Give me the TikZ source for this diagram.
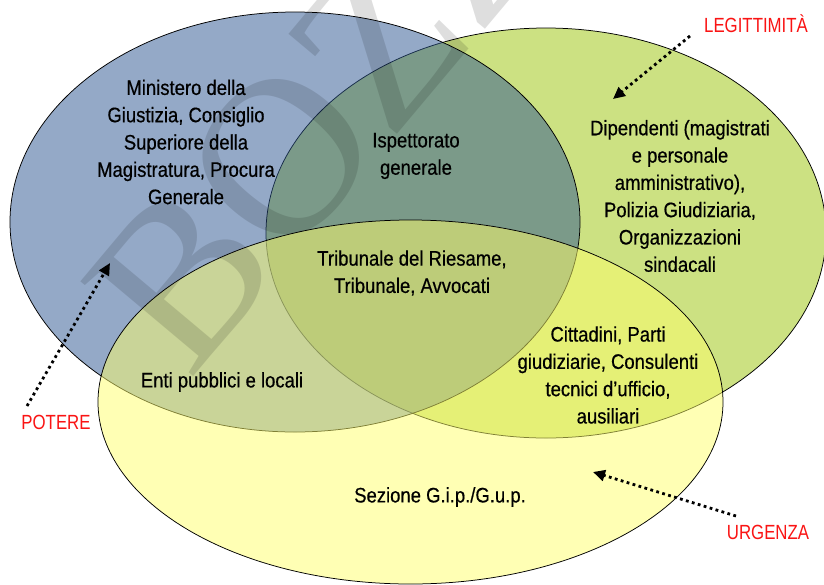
\documentclass[tikz,border=0pt]{standalone}
\usepackage{fontspec}
\setmainfont{Liberation Sans}
\newfontfamily\bodyfont{Liberation Sans}[FakeStretch=0.88,FakeBold=0.5]
\newfontfamily\labelfont{Liberation Sans}[FakeStretch=0.82]
\newfontfamily\wmfont{Liberation Serif}
\usetikzlibrary{arrows.meta}
\definecolor{bluef}{RGB}{43,85,145}
\definecolor{greenf}{RGB}{155,197,7}
\definecolor{yellowf}{RGB}{255,255,107}
\definecolor{labred}{RGB}{250,20,20}
\tikzset{
  venn/.style={draw=black, line width=0.75pt, fill opacity=0.5},
  txt/.style={align=center, inner sep=0pt, text=black,
    font=\bodyfont\fontsize{21}{27.3}\selectfont},
  lab/.style={inner sep=0pt, text=labred,
    font=\labelfont\fontsize{20.5}{24}\selectfont},
  dotarrow/.style={line width=2.8pt, dash pattern=on 2.8pt off 3.4pt,
    -{Triangle[length=12pt,width=11pt]}},
  wmark/.style={rotate=50, anchor=base west, inner sep=0pt, text=black,
    text opacity=0.13, font=\wmfont\fontsize{225}{225}\selectfont}
}
\begin{document}
\begin{tikzpicture}[x=1pt,y=-1pt]
\useasboundingbox (0,0) rectangle (824,584);
% ellipses
\fill[white] (0,0) rectangle (824,584);
\draw[venn, fill=greenf] (546,233) ellipse [x radius=280, y radius=205];
\draw[venn, fill=bluef] (295,222) ellipse [x radius=285, y radius=210];
\draw[venn, fill=yellowf] (410.5,402) ellipse [x radius=312.5, y radius=182];
% watermark
\begin{scope}
\clip (0,0) rectangle (824,584);
\node[wmark] (wm) at (189,382) {BOZZA};
\end{scope}
% texts
\node[txt] (min) at (186,142) {Ministero della\\Giustizia, Consiglio\\Superiore della\\Magistratura, Procura\\Generale};
\node[txt] (isp) at (416,156) {Ispettorato\\generale};
\node[txt] (trib) at (412,273) {Tribunale del Riesame,\\Tribunale, Avvocati};
\node[txt] (dip) at (680,196) {Dipendenti (magistrati\\e personale\\amministrativo),\\Polizia Giudiziaria,\\Organizzazioni\\sindacali};
\node[txt] (citt) at (608,375) {Cittadini, Parti\\giudiziarie, Consulenti\\tecnici d’ufficio,\\ausiliari};
\node[txt] (enti) at (222,382) {Enti pubblici e locali};
\node[txt] (sez) at (440,497) {Sezione G.i.p./G.u.p.};
% labels and arrows
\node[lab] (leg) at (756,24) {LEGITTIMITÀ};
\node[lab] (pot) at (56,422) {POTERE};
\node[lab] (urg) at (768,532) {URGENZA};
\coordinate (legS) at (690,36);
\coordinate (legT) at (613,99);
\coordinate (potS) at (27,406);
\coordinate (potT) at (110,263);
\coordinate (urgS) at (736,516);
\coordinate (urgT) at (593,472);
\draw[dotarrow] (legS) -- (legT);
\draw[dotarrow] (potS) -- (potT);
\draw[dotarrow] (urgS) -- (urgT);
\end{tikzpicture}
\end{document}
